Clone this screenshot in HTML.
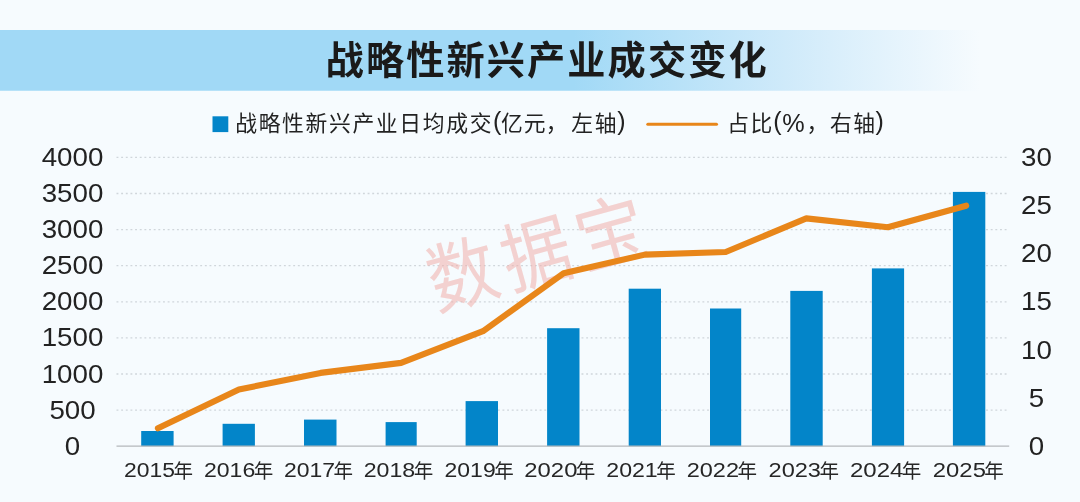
<!DOCTYPE html>
<html><head><meta charset="utf-8"><title>chart</title>
<style>
html,body{margin:0;padding:0;background:#f6fbfe;}
body{width:1080px;height:502px;overflow:hidden;font-family:"Liberation Sans",sans-serif;}
svg{display:block;font-family:"Liberation Sans","Noto Sans CJK SC",sans-serif;will-change:transform;}
</style></head><body>
<svg width="1080" height="502" viewBox="0 0 1080 502" role="img" aria-label="战略性新兴产业成交变化">
<title>战略性新兴产业成交变化</title>
<desc>战略性新兴产业日均成交(亿元，左轴) 占比(%，右轴) 2015年 2016年 2017年 2018年 2019年 2020年 2021年 2022年 2023年 2024年 2025年 数据宝</desc>
<defs>
<linearGradient id="band" gradientUnits="userSpaceOnUse" x1="0" y1="0" x2="980" y2="0">
<stop offset="0" stop-color="#a1d9f6"/>
<stop offset="0.585" stop-color="#a1d9f6"/>
<stop offset="0.80" stop-color="#cfeafa"/>
<stop offset="1" stop-color="#f6fbfe"/>
</linearGradient>
</defs>
<rect x="0" y="0" width="1080" height="502" fill="#f6fbfe"/>
<rect x="0" y="30" width="980" height="60.75" fill="url(#band)"/>
<text x="325.6" y="74.4" font-size="38.2" font-weight="bold" letter-spacing="2.1" text-anchor="start" fill="#1a1a1a" font-family="'Liberation Sans','Noto Sans CJK SC',sans-serif">战略性新兴产业成交变化</text>
<rect x="212.5" y="116.3" width="15.8" height="15.8" fill="#0385c9"/>
<text x="235.2" y="130.9" font-size="21.8" letter-spacing="1.65" text-anchor="start" fill="#222222" font-family="'Liberation Sans','Noto Sans CJK SC',sans-serif">战略性新兴产业日均成交</text>
<text transform="translate(493.05,130.00) scale(1.0,1)" font-size="25" text-anchor="start" fill="#222222">(</text>
<text x="500.9" y="130.9" font-size="21.8" letter-spacing="1.1" text-anchor="start" fill="#222222" font-family="'Liberation Sans','Noto Sans CJK SC',sans-serif">亿元</text>
<text x="545.7" y="130.9" font-size="21.8" text-anchor="start" fill="#222222" font-family="'Liberation Sans','Noto Sans CJK SC',sans-serif">，</text>
<text x="571.3" y="130.9" font-size="21.8" letter-spacing="1.7" text-anchor="start" fill="#222222" font-family="'Liberation Sans','Noto Sans CJK SC',sans-serif">左轴</text>
<text transform="translate(617.20,130.00) scale(1.0,1)" font-size="25" text-anchor="start" fill="#222222">)</text>
<line x1="647.8" y1="124.3" x2="716.5" y2="124.3" stroke="#e8861a" stroke-width="3" stroke-linecap="round"/>
<text x="727.2" y="130.9" font-size="21.8" letter-spacing="1.55" text-anchor="start" fill="#222222" font-family="'Liberation Sans','Noto Sans CJK SC',sans-serif">占比</text>
<text transform="translate(773.20,130.00) scale(1.0,1)" font-size="25" text-anchor="start" fill="#222222">(</text>
<text transform="translate(782.20,132.20) scale(0.97,1)" font-size="26" text-anchor="start" fill="#222222">%</text>
<text x="806.55" y="130.9" font-size="21.8" text-anchor="start" fill="#222222" font-family="'Liberation Sans','Noto Sans CJK SC',sans-serif">，</text>
<text x="830" y="130.9" font-size="21.8" letter-spacing="1.5" text-anchor="start" fill="#222222" font-family="'Liberation Sans','Noto Sans CJK SC',sans-serif">右轴</text>
<text transform="translate(875.60,130.00) scale(1.0,1)" font-size="25" text-anchor="start" fill="#222222">)</text>
<line x1="116.5" y1="410.10" x2="1009" y2="410.10" stroke="#d0d6db" stroke-width="1.3" stroke-dasharray="1.9 2.75"/>
<line x1="116.5" y1="374.00" x2="1009" y2="374.00" stroke="#d0d6db" stroke-width="1.3" stroke-dasharray="1.9 2.75"/>
<line x1="116.5" y1="337.90" x2="1009" y2="337.90" stroke="#d0d6db" stroke-width="1.3" stroke-dasharray="1.9 2.75"/>
<line x1="116.5" y1="301.80" x2="1009" y2="301.80" stroke="#d0d6db" stroke-width="1.3" stroke-dasharray="1.9 2.75"/>
<line x1="116.5" y1="265.70" x2="1009" y2="265.70" stroke="#d0d6db" stroke-width="1.3" stroke-dasharray="1.9 2.75"/>
<line x1="116.5" y1="229.60" x2="1009" y2="229.60" stroke="#d0d6db" stroke-width="1.3" stroke-dasharray="1.9 2.75"/>
<line x1="116.5" y1="193.50" x2="1009" y2="193.50" stroke="#d0d6db" stroke-width="1.3" stroke-dasharray="1.9 2.75"/>
<line x1="116.5" y1="157.40" x2="1009" y2="157.40" stroke="#d0d6db" stroke-width="1.3" stroke-dasharray="1.9 2.75"/>
<text transform="translate(539.7,251.72) rotate(-15.5) scale(0.912,1)" x="0" y="29" font-size="76.5" letter-spacing="7.9" text-anchor="middle" fill="#f0aea9" fill-opacity="0.55" font-family="'Liberation Sans','Noto Sans CJK SC',sans-serif">数据宝</text>
<rect x="141.20" y="431.00" width="32.40" height="15.20" fill="#0385c9"/>
<rect x="222.60" y="423.80" width="32.30" height="22.40" fill="#0385c9"/>
<rect x="304.00" y="419.60" width="32.50" height="26.60" fill="#0385c9"/>
<rect x="385.60" y="422.10" width="31.10" height="24.10" fill="#0385c9"/>
<rect x="465.60" y="401.10" width="32.40" height="45.10" fill="#0385c9"/>
<rect x="547.10" y="328.20" width="32.40" height="118.00" fill="#0385c9"/>
<rect x="628.70" y="288.70" width="32.30" height="157.50" fill="#0385c9"/>
<rect x="710.00" y="308.50" width="31.20" height="137.70" fill="#0385c9"/>
<rect x="790.30" y="290.90" width="32.40" height="155.30" fill="#0385c9"/>
<rect x="871.90" y="268.40" width="32.20" height="177.80" fill="#0385c9"/>
<rect x="952.90" y="191.90" width="32.40" height="254.30" fill="#0385c9"/>
<line x1="116.5" y1="446.2" x2="1009.2" y2="446.2" stroke="#b4b8bb" stroke-width="1.2"/>
<polyline points="157.9,428.2 238.9,389.5 320.6,372.9 401.1,362.9 483.0,331.2 563.6,273.3 645,254.6 725.7,252 806.3,218.4 887.8,227.3 966.2,205.7" fill="none" stroke="#e8861a" stroke-width="6.1" stroke-linecap="round" stroke-linejoin="round"/>
<text transform="translate(72.50,454.90) scale(1.1,1)" font-size="25.2" text-anchor="middle" fill="#222222">0</text>
<text transform="translate(72.50,418.75) scale(1.1,1)" font-size="25.2" text-anchor="middle" fill="#222222">500</text>
<text transform="translate(72.50,382.60) scale(1.1,1)" font-size="25.2" text-anchor="middle" fill="#222222">1000</text>
<text transform="translate(72.50,346.45) scale(1.1,1)" font-size="25.2" text-anchor="middle" fill="#222222">1500</text>
<text transform="translate(72.50,310.30) scale(1.1,1)" font-size="25.2" text-anchor="middle" fill="#222222">2000</text>
<text transform="translate(72.50,274.15) scale(1.1,1)" font-size="25.2" text-anchor="middle" fill="#222222">2500</text>
<text transform="translate(72.50,238.00) scale(1.1,1)" font-size="25.2" text-anchor="middle" fill="#222222">3000</text>
<text transform="translate(72.50,201.85) scale(1.1,1)" font-size="25.2" text-anchor="middle" fill="#222222">3500</text>
<text transform="translate(72.50,165.70) scale(1.1,1)" font-size="25.2" text-anchor="middle" fill="#222222">4000</text>
<text transform="translate(1036.40,454.90) scale(1.1,1)" font-size="25.2" text-anchor="middle" fill="#222222">0</text>
<text transform="translate(1036.40,406.70) scale(1.1,1)" font-size="25.2" text-anchor="middle" fill="#222222">5</text>
<text transform="translate(1036.40,358.50) scale(1.1,1)" font-size="25.2" text-anchor="middle" fill="#222222">10</text>
<text transform="translate(1036.40,310.30) scale(1.1,1)" font-size="25.2" text-anchor="middle" fill="#222222">15</text>
<text transform="translate(1036.40,262.10) scale(1.1,1)" font-size="25.2" text-anchor="middle" fill="#222222">20</text>
<text transform="translate(1036.40,213.90) scale(1.1,1)" font-size="25.2" text-anchor="middle" fill="#222222">25</text>
<text transform="translate(1036.40,165.70) scale(1.1,1)" font-size="25.2" text-anchor="middle" fill="#222222">30</text>
<text transform="translate(124.10,477.30) scale(1.135,1)" font-size="20.2" text-anchor="start" fill="#262626">2015</text>
<text x="173.6" y="477.9" font-size="19.5" text-anchor="start" fill="#262626" font-family="'Liberation Sans','Noto Sans CJK SC',sans-serif">年</text>
<text transform="translate(203.99,477.30) scale(1.1418,1)" font-size="20.2" text-anchor="start" fill="#262626">2016</text>
<text x="253.79" y="477.9" font-size="19.5" text-anchor="start" fill="#262626" font-family="'Liberation Sans','Noto Sans CJK SC',sans-serif">年</text>
<text transform="translate(283.90,477.30) scale(1.1367,1)" font-size="20.2" text-anchor="start" fill="#262626">2017</text>
<text x="333.47" y="477.9" font-size="19.5" text-anchor="start" fill="#262626" font-family="'Liberation Sans','Noto Sans CJK SC',sans-serif">年</text>
<text transform="translate(363.69,477.30) scale(1.1469,1)" font-size="20.2" text-anchor="start" fill="#262626">2018</text>
<text x="413.71" y="477.9" font-size="19.5" text-anchor="start" fill="#262626" font-family="'Liberation Sans','Noto Sans CJK SC',sans-serif">年</text>
<text transform="translate(444.60,477.30) scale(1.1367,1)" font-size="20.2" text-anchor="start" fill="#262626">2019</text>
<text x="494.17" y="477.9" font-size="19.5" text-anchor="start" fill="#262626" font-family="'Liberation Sans','Noto Sans CJK SC',sans-serif">年</text>
<text transform="translate(524.35,477.30) scale(1.1809,1)" font-size="20.2" text-anchor="start" fill="#262626">2020</text>
<text x="575.85" y="477.9" font-size="19.5" text-anchor="start" fill="#262626" font-family="'Liberation Sans','Noto Sans CJK SC',sans-serif">年</text>
<text transform="translate(606.29,477.30) scale(1.1452,1)" font-size="20.2" text-anchor="start" fill="#262626">2021</text>
<text x="656.23" y="477.9" font-size="19.5" text-anchor="start" fill="#262626" font-family="'Liberation Sans','Noto Sans CJK SC',sans-serif">年</text>
<text transform="translate(686.67,477.30) scale(1.1639,1)" font-size="20.2" text-anchor="start" fill="#262626">2022</text>
<text x="737.43" y="477.9" font-size="19.5" text-anchor="start" fill="#262626" font-family="'Liberation Sans','Noto Sans CJK SC',sans-serif">年</text>
<text transform="translate(768.56,477.30) scale(1.1673,1)" font-size="20.2" text-anchor="start" fill="#262626">2023</text>
<text x="819.47" y="477.9" font-size="19.5" text-anchor="start" fill="#262626" font-family="'Liberation Sans','Noto Sans CJK SC',sans-serif">年</text>
<text transform="translate(849.94,477.30) scale(1.1894,1)" font-size="20.2" text-anchor="start" fill="#262626">2024</text>
<text x="901.81" y="477.9" font-size="19.5" text-anchor="start" fill="#262626" font-family="'Liberation Sans','Noto Sans CJK SC',sans-serif">年</text>
<text transform="translate(932.85,477.30) scale(1.1809,1)" font-size="20.2" text-anchor="start" fill="#262626">2025</text>
<text x="984.35" y="477.9" font-size="19.5" text-anchor="start" fill="#262626" font-family="'Liberation Sans','Noto Sans CJK SC',sans-serif">年</text>
</svg>
</body></html>
